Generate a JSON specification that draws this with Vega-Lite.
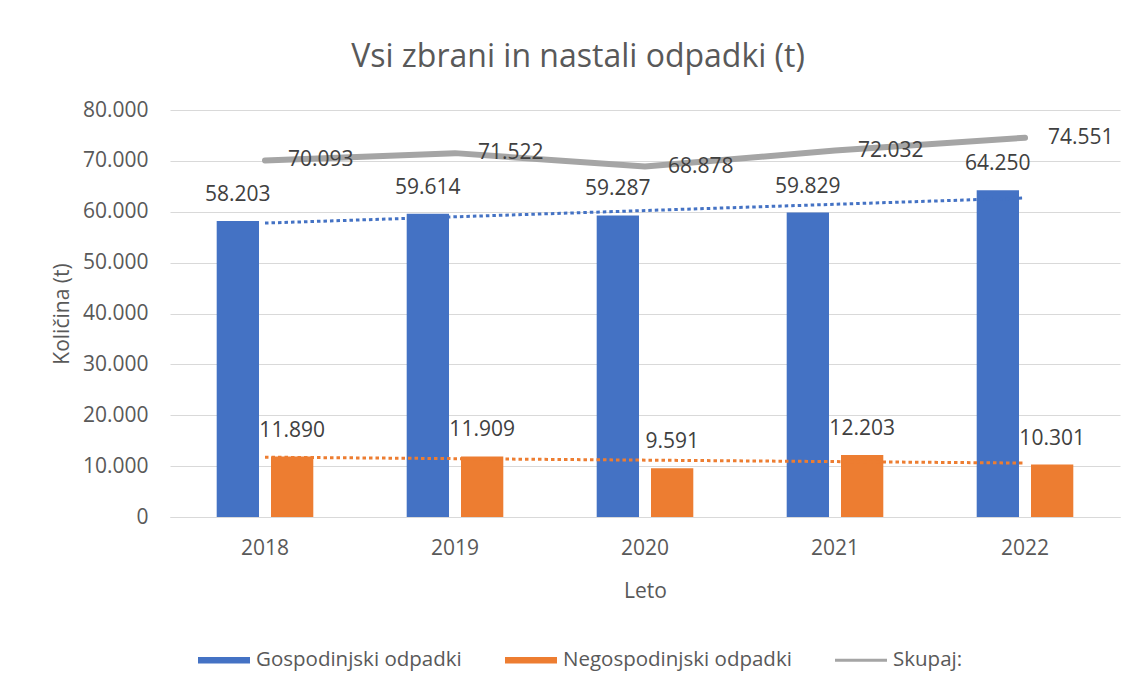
{
  "$schema": "https://vega.github.io/schema/vega-lite/v6.json",
  "width": 950,
  "height": 407,
  "padding": {"left": 51, "top": 41, "right": 16, "bottom": 10},
  "background": "white",
  "title": {
    "text": "Vsi zbrani in nastali odpadki (t)",
    "font": "Open Sans",
    "fontSize": 32,
    "fontWeight": "normal",
    "color": "#595959",
    "anchor": "middle",
    "dx": -67,
    "offset": 25
  },
  "data": {
    "values": [
      {"Leto": "2018", "serija": "Gospodinjski odpadki", "kolicina": 58203, "vrsta": "stolpec"},
      {"Leto": "2019", "serija": "Gospodinjski odpadki", "kolicina": 59614, "vrsta": "stolpec"},
      {"Leto": "2020", "serija": "Gospodinjski odpadki", "kolicina": 59287, "vrsta": "stolpec"},
      {"Leto": "2021", "serija": "Gospodinjski odpadki", "kolicina": 59829, "vrsta": "stolpec"},
      {"Leto": "2022", "serija": "Gospodinjski odpadki", "kolicina": 64250, "vrsta": "stolpec"},
      {"Leto": "2018", "serija": "Negospodinjski odpadki", "kolicina": 11890, "vrsta": "stolpec"},
      {"Leto": "2019", "serija": "Negospodinjski odpadki", "kolicina": 11909, "vrsta": "stolpec"},
      {"Leto": "2020", "serija": "Negospodinjski odpadki", "kolicina": 9591, "vrsta": "stolpec"},
      {"Leto": "2021", "serija": "Negospodinjski odpadki", "kolicina": 12203, "vrsta": "stolpec"},
      {"Leto": "2022", "serija": "Negospodinjski odpadki", "kolicina": 10301, "vrsta": "stolpec"},
      {"Leto": "2018", "serija": "Skupaj:", "kolicina": 70093, "vrsta": "crta"},
      {"Leto": "2019", "serija": "Skupaj:", "kolicina": 71522, "vrsta": "crta"},
      {"Leto": "2020", "serija": "Skupaj:", "kolicina": 68878, "vrsta": "crta"},
      {"Leto": "2021", "serija": "Skupaj:", "kolicina": 72032, "vrsta": "crta"},
      {"Leto": "2022", "serija": "Skupaj:", "kolicina": 74551, "vrsta": "crta"},
      {"Leto": "2018", "serija": "Gospodinjski odpadki", "kolicina": 57775, "vrsta": "trend"},
      {"Leto": "2022", "serija": "Gospodinjski odpadki", "kolicina": 62698, "vrsta": "trend"},
      {"Leto": "2018", "serija": "Negospodinjski odpadki", "kolicina": 11756, "vrsta": "trend"},
      {"Leto": "2022", "serija": "Negospodinjski odpadki", "kolicina": 10602, "vrsta": "trend"}
    ]
  },
  "encoding": {
    "x": {
      "field": "Leto",
      "type": "ordinal",
      "title": "Leto",
      "scale": {"paddingInner": 0, "paddingOuter": 0},
      "axis": {
        "labelAngle": 0,
        "labelPadding": 20,
        "titlePadding": 22,
        "grid": false,
        "domain": true,
        "domainColor": "#D9D9D9",
        "ticks": false
      }
    },
    "y": {
      "field": "kolicina",
      "type": "quantitative",
      "title": "Količina (t)",
      "scale": {"domain": [0, 80000], "nice": false},
      "axis": {
        "values": [0, 10000, 20000, 30000, 40000, 50000, 60000, 70000, 80000],
        "format": ",.0f",
        "domain": false,
        "ticks": false,
        "grid": true,
        "labelPadding": 22,
        "titlePadding": 10
      }
    },
    "color": {
      "field": "serija",
      "type": "nominal",
      "title": null,
      "scale": {
        "domain": ["Gospodinjski odpadki", "Negospodinjski odpadki", "Skupaj:"],
        "range": ["#4472C4", "#ED7D31", "#A5A5A5"]
      }
    }
  },
  "layer": [
    {
      "transform": [{"filter": "datum.vrsta === 'stolpec'"}],
      "mark": {"type": "bar"},
      "encoding": {
        "xOffset": {
          "field": "serija",
          "type": "nominal",
          "scale": {"domain": ["Gospodinjski odpadki", "Negospodinjski odpadki"], "paddingInner": 0.221, "paddingOuter": 0.86}
        }
      }
    },
    {
      "transform": [{"filter": "datum.vrsta === 'trend'"}],
      "mark": {"type": "line", "strokeWidth": 3, "strokeDash": [3.5, 3]},
      "encoding": {"detail": {"field": "serija"}}
    },
    {
      "transform": [{"filter": "datum.vrsta === 'crta'"}],
      "mark": {"type": "line", "strokeWidth": 6, "strokeCap": "round", "strokeJoin": "round"}
    },
    {
      "transform": [{"filter": "datum.vrsta === 'stolpec'"}],
      "mark": {"type": "text", "align": "center", "baseline": "alphabetic", "dy": -20, "font": "Open Sans", "fontSize": 21},
      "encoding": {
        "xOffset": {
          "field": "serija",
          "type": "nominal",
          "scale": {"domain": ["Gospodinjski odpadki", "Negospodinjski odpadki"], "paddingInner": 0.221, "paddingOuter": 0.86}
        },
        "text": {"field": "kolicina", "type": "quantitative", "format": ",.0f"},
        "color": {"value": "#404040"}
      }
    },
    {
      "transform": [{"filter": "datum.vrsta === 'crta'"}],
      "mark": {"type": "text", "align": "left", "baseline": "middle", "dx": 23, "font": "Open Sans", "fontSize": 21},
      "encoding": {
        "text": {"field": "kolicina", "type": "quantitative", "format": ",.0f"},
        "color": {"value": "#404040"}
      }
    },
    {
      "transform": [{"filter": "datum.vrsta !== 'trend'"}],
      "mark": {"type": "point", "filled": true, "opacity": 0, "size": 10},
      "encoding": {
        "color": {
          "field": "serija",
          "type": "nominal",
          "title": null,
          "scale": {
            "domain": ["Gospodinjski odpadki", "Negospodinjski odpadki", "Skupaj:"],
            "range": ["#4472C4", "#ED7D31", "#A5A5A5"]
          },
          "legend": {
            "orient": "none",
            "direction": "horizontal",
            "legendX": 28,
            "legendY": 524,
            "columnPadding": 43,
            "labelOffset": 6,
            "labelLimit": 400,
            "symbolSize": 2704,
            "symbolOpacity": 1,
            "symbolStrokeWidth": 0
          }
        },
        "shape": {
          "field": "serija",
          "type": "nominal",
          "title": null,
          "scale": {
            "domain": ["Gospodinjski odpadki", "Negospodinjski odpadki", "Skupaj:"],
            "range": ["M-1,-0.125H1V0.125H-1Z", "M-1,-0.125H1V0.125H-1Z", "M-1,-0.06H1V0.06H-1Z"]
          },
          "legend": {
            "orient": "none",
            "direction": "horizontal",
            "legendX": 28,
            "legendY": 524,
            "columnPadding": 43,
            "labelOffset": 6,
            "labelLimit": 400,
            "symbolSize": 2704,
            "symbolOpacity": 1,
            "symbolStrokeWidth": 0
          }
        }
      }
    }
  ],
  "config": {
    "view": {"stroke": null},
    "locale": {"number": {"decimal": ",", "thousands": ".", "grouping": [3], "currency": ["", " €"]}},
    "axis": {
      "labelFont": "Open Sans",
      "titleFont": "Open Sans",
      "labelFontSize": 21,
      "titleFontSize": 21,
      "titleFontWeight": "normal",
      "labelColor": "#595959",
      "titleColor": "#595959",
      "gridColor": "#D9D9D9",
      "gridWidth": 1
    },
    "legend": {
      "labelFont": "Open Sans",
      "labelFontSize": 20.5,
      "labelLimit": 400,
      "labelColor": "#595959"
    }
  }
}
